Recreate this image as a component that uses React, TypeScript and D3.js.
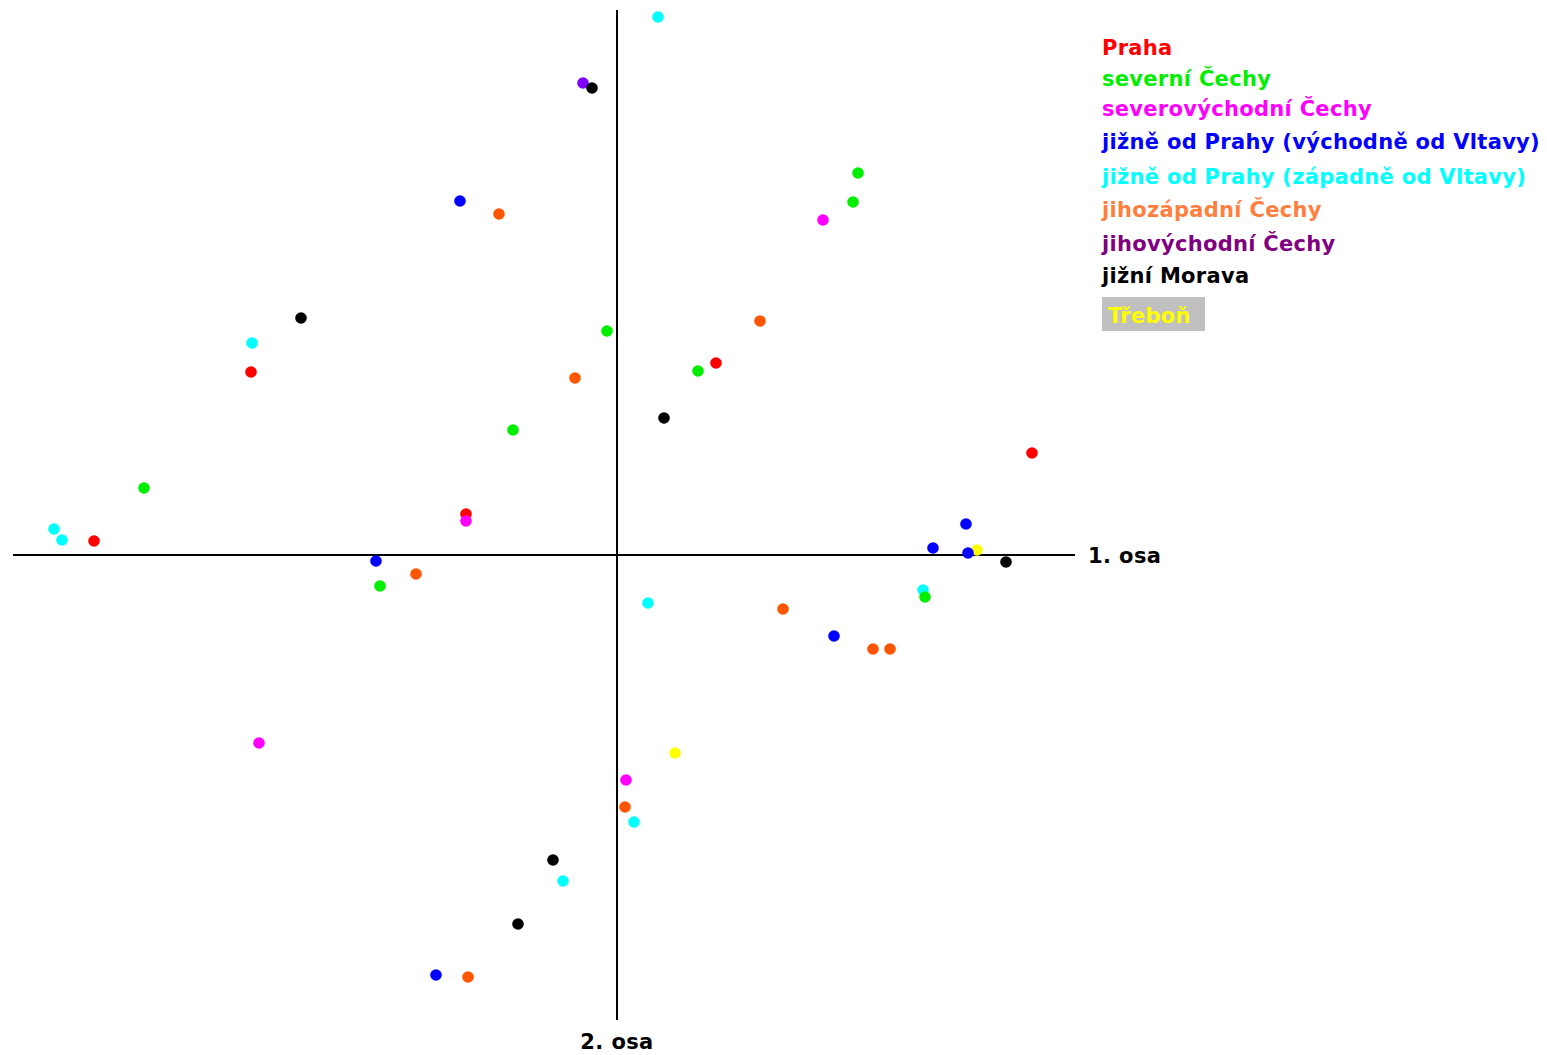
import React, { useEffect, useRef } from 'react';
import * as d3 from 'd3';

// scores on the 1st and 2nd axis, per region
const praha = [[-3.66, 1.83], [-5.23, 0.14], [-1.51, 0.41], [0.99, 1.92], [4.15, 1.02]];
const severni = [[2.41, 3.82], [2.36, 3.53], [-0.10, 2.24], [0.81, 1.84], [-1.04, 1.25], [-4.73, 0.67], [-2.37, -0.31], [3.08, -0.42]];
const severovychodni = [[2.06, 3.35], [-1.51, 0.34], [-3.58, -1.88], [0.09, -2.25]];
const jizneVychodne = [[-1.57, 3.54], [-2.41, -0.06], [2.17, -0.81], [3.49, 0.31], [3.16, 0.07], [3.51, 0.02], [-1.81, -4.20]];
const jizneZapadne = [[0.41, 5.38], [-3.65, 2.12], [-5.63, 0.26], [-5.55, 0.15], [0.31, -0.48], [3.06, -0.35], [0.17, -2.67], [-0.54, -3.26]];
const jihozapadni = [[-1.18, 3.41], [1.43, 2.34], [-0.42, 1.77], [-2.01, -0.19], [1.66, -0.54], [2.56, -0.94], [2.73, -0.94], [0.08, -2.52], [-1.49, -4.22]];
const jihovychodni = [[-0.34, 4.72]];
const jizniMorava = [[-0.25, 4.67], [-3.16, 2.37], [0.47, 1.37], [3.89, -0.07], [-0.64, -3.05], [-0.99, -3.69]];
const trebon = [[3.60, 0.05], [0.58, -1.98]];

const legendLabels = [
  'Praha',
  'severní Čechy',
  'severovýchodní Čechy',
  'jižně od Prahy (východně od Vltavy)',
  'jižně od Prahy (západně od Vltavy)',
  'jihozápadní Čechy',
  'jihovýchodní Čechy',
  'jižní Morava',
];
const legendColors = ['#ff0000', '#00ee00', '#ff00ff', '#0000ff', '#00ffff', '#ff7f3f', '#800080', '#000000'];
const legendBaselines = [55, 86, 116, 149, 184, 217, 251, 283];

export default function App() {
  const ref = useRef<SVGSVGElement>(null);

  useEffect(() => {
    const svg = d3.select(ref.current);
    svg.selectAll('*').remove();

    const x = d3.scaleLinear().domain([-6.04, 4.58]).range([13, 1075]);
    const y = d3.scaleLinear().domain([-4.65, 5.45]).range([1020, 10]);
    const font = '"DejaVu Sans", Verdana, sans-serif';

    // axes crossing at the origin
    svg.append('line')
      .attr('x1', x(-6.04)).attr('x2', x(4.58))
      .attr('y1', y(0)).attr('y2', y(0))
      .attr('stroke', '#000').attr('stroke-width', 2);
    svg.append('line')
      .attr('x1', x(0)).attr('x2', x(0))
      .attr('y1', y(5.45)).attr('y2', y(-4.65))
      .attr('stroke', '#000').attr('stroke-width', 2);

    svg.append('text')
      .attr('x', x(4.58) + 13).attr('y', y(0) + 8)
      .attr('font-family', font).attr('font-weight', 'bold').attr('font-size', 21)
      .attr('letter-spacing', 0.4)
      .text('1. osa');
    svg.append('text')
      .attr('x', x(0)).attr('y', 1049)
      .attr('text-anchor', 'middle')
      .attr('font-family', font).attr('font-weight', 'bold').attr('font-size', 21)
      .attr('letter-spacing', 0.4)
      .text('2. osa');

    // drawing order picked so overlaps match
    const groups = [
      { data: jizneZapadne, color: '#00ffff' },
      { data: trebon, color: '#ffff00' },
      { data: praha, color: '#ff0000' },
      { data: severovychodni, color: '#ff00ff' },
      { data: jihozapadni, color: '#ff5500' },
      { data: jihovychodni, color: '#8000ff' },
      { data: jizneVychodne, color: '#0000ff' },
      { data: severni, color: '#00ee00' },
      { data: jizniMorava, color: '#000000' },
    ];

    groups.forEach((g) => {
      svg.append('g')
        .selectAll('circle')
        .data(g.data)
        .enter()
        .append('circle')
        .attr('cx', (d) => x(d[0]))
        .attr('cy', (d) => y(d[1]))
        .attr('r', 5.8)
        .attr('fill', g.color);
    });

    // legend
    const legend = svg.append('g');
    legend.selectAll('text')
      .data(legendLabels)
      .enter()
      .append('text')
      .attr('x', 1102)
      .attr('y', (d, i) => legendBaselines[i])
      .attr('font-family', font).attr('font-weight', 'bold').attr('font-size', 21)
      .attr('letter-spacing', 0.3)
      .attr('fill', (d, i) => legendColors[i])
      .text((d) => d);

    legend.append('rect')
      .attr('x', 1102).attr('y', 297)
      .attr('width', 103).attr('height', 34)
      .attr('fill', '#c0c0c0');
    legend.append('text')
      .attr('x', 1108).attr('y', 323)
      .attr('font-family', font).attr('font-weight', 'bold').attr('font-size', 21)
      .attr('letter-spacing', 0.3)
      .attr('fill', '#ffff00')
      .text('Třeboň');
  }, []);

  return (
    <svg
      ref={ref}
      width={1547}
      height={1055}
      style={{ position: 'absolute', left: 0, top: 0, background: '#fff' }}
    />
  );
}
